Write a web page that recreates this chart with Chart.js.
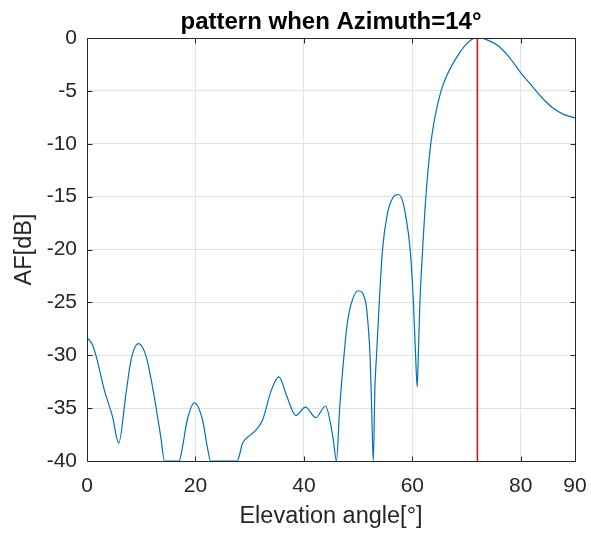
<!DOCTYPE html>
<html>
<head>
<meta charset="utf-8">
<script src="https://cdn.jsdelivr.net/npm/chart.js@4"></script>
<style>
  html, body { margin: 0; padding: 0; background: #fff; }
</style>
</head>
<body>
<canvas id="chart" width="591" height="535"></canvas>
<script>
// values
const elevation = [0, 1, 1.7, 3.2, 4.7, 5.85, 7.2, 8.1, 9.5, 10.9, 12.4, 13.6, 14.3, 17.0, 17.6, 18.5, 19.8,
  21.3, 22.2, 22.8, 27.7, 28.7, 30.0, 31.1, 32.4, 34.0, 35.4, 36.8, 38.5, 40.3, 42.2, 44.0, 45.0, 45.5, 46.0,
  46.6, 47.4, 48.0, 48.8, 50.0, 51.4, 51.9, 52.2, 52.5, 52.8, 53.1, 53.4, 53.9, 54.5, 55.4, 56.4, 57.4, 58.2,
  58.7, 59.6, 60.2, 60.6, 60.9, 61.1, 61.4, 61.9, 62.5, 63.4, 64.2, 65.3, 66.4, 67.5, 68.6, 69.6, 71.1, 72.3,
  74, 76, 78, 80, 82, 84, 86, 88, 90];
const afDb = [-28.3, -29.0, -30.1, -33.3, -35.8, -38.3, -33.6, -30.5, -28.9, -30.1, -33.9, -37.7, -40, -40, -38.7, -36.1, -34.5,
  -36.1, -38.7, -40, -40, -38.3, -37.6, -37.1, -36.1, -33.3, -32.05, -33.8, -35.7, -34.9, -35.9, -34.8, -36.7, -38.3, -40,
  -35, -30, -27, -25, -23.9, -25, -27.5, -30, -35, -40, -33, -30, -25, -20, -16.6, -15.1, -14.8, -15.4,
  -16.6, -20, -25, -30, -33, -30, -25, -20, -15, -10, -7.4, -5, -3.5, -2.4, -1.5, -0.8, -0.1, 0,
  -0.22, -0.8, -1.9, -3.3, -4.5, -5.7, -6.65, -7.25, -7.55];
const steerAngle = 72;
const xTicks = [0, 20, 40, 60, 80, 90];
const yTicks = [-40, -35, -30, -25, -20, -15, -10, -5, 0];

const FONT = "'Liberation Sans', Arial, Helvetica, sans-serif";
const AXIS = '#262626';

// matlab style box with inward ticks
const boxTicks = {
  id: 'boxTicks',
  afterDatasetsDraw(chart) {
    const {ctx, chartArea: a, scales: {x, y}} = chart;
    const px = v => Math.round(v) + 0.5;
    const L = px(a.left), R = px(a.right), T = px(a.top), B = px(a.bottom);
    ctx.save();
    ctx.strokeStyle = AXIS;
    ctx.lineWidth = 1;
    ctx.beginPath();
    ctx.rect(L, T, R - L, B - T);
    xTicks.forEach(v => {
      const xp = px(x.getPixelForValue(v));
      ctx.moveTo(xp, B); ctx.lineTo(xp, B - 5);
      ctx.moveTo(xp, T); ctx.lineTo(xp, T + 5);
    });
    yTicks.forEach(v => {
      const yp = px(y.getPixelForValue(v));
      ctx.moveTo(L, yp); ctx.lineTo(L + 5, yp);
      ctx.moveTo(R, yp); ctx.lineTo(R - 5, yp);
    });
    ctx.stroke();
    ctx.restore();
  }
};

new Chart(document.getElementById('chart'), {
  type: 'line',
  data: {
    datasets: [
      {
        data: elevation.map((e, i) => ({x: e, y: afDb[i]})),
        borderColor: '#0072BD',
        borderWidth: 1.2,
        pointRadius: 0,
        cubicInterpolationMode: 'monotone'
      },
      {
        data: [{x: steerAngle, y: -40}, {x: steerAngle, y: 0}],
        borderColor: '#ff0000',
        borderWidth: 1.5,
        pointRadius: 0
      }
    ]
  },
  options: {
    responsive: false,
    animation: false,
    events: [],
    layout: { padding: { left: 0, right: 16, top: 0, bottom: 0 } },
    plugins: {
      legend: { display: false },
      tooltip: { enabled: false },
      title: {
        display: true,
        fullSize: false,
        text: 'pattern when Azimuth=14°',
        color: '#000',
        font: { family: FONT, size: 24, weight: 'bold', lineHeight: 1.2 },
        padding: { top: 7.6, bottom: 1.6 }
      }
    },
    scales: {
      x: {
        type: 'linear',
        min: 0, max: 90,
        afterBuildTicks: s => { s.ticks = xTicks.map(v => ({value: v})); },
        afterFit: s => { s.height = 74; s.paddingLeft = 0; s.paddingRight = 0; },
        grid: { color: '#e3e3e3', drawTicks: false },
        border: { display: false },
        ticks: { color: AXIS, padding: 13, maxRotation: 0, font: { family: FONT, size: 21 } },
        title: {
          display: true, text: 'Elevation angle[°]', color: AXIS,
          font: { family: FONT, size: 23.5, lineHeight: 1.2 },
          padding: { top: 0, bottom: 4.6 }
        }
      },
      y: {
        min: -40, max: 0,
        afterBuildTicks: s => { s.ticks = yTicks.map(v => ({value: v})); },
        afterFit: s => { s.width = 87; s.paddingTop = 0; s.paddingBottom = 0; },
        grid: { color: '#e3e3e3', drawTicks: false },
        border: { display: false },
        ticks: { color: AXIS, padding: 10, font: { family: FONT, size: 21 } },
        title: {
          display: true, text: 'AF[dB]', color: AXIS,
          font: { family: FONT, size: 23.5, lineHeight: 1.2 },
          padding: { top: 10, bottom: 0 }
        }
      }
    }
  },
  plugins: [boxTicks]
});
</script>
</body>
</html>
